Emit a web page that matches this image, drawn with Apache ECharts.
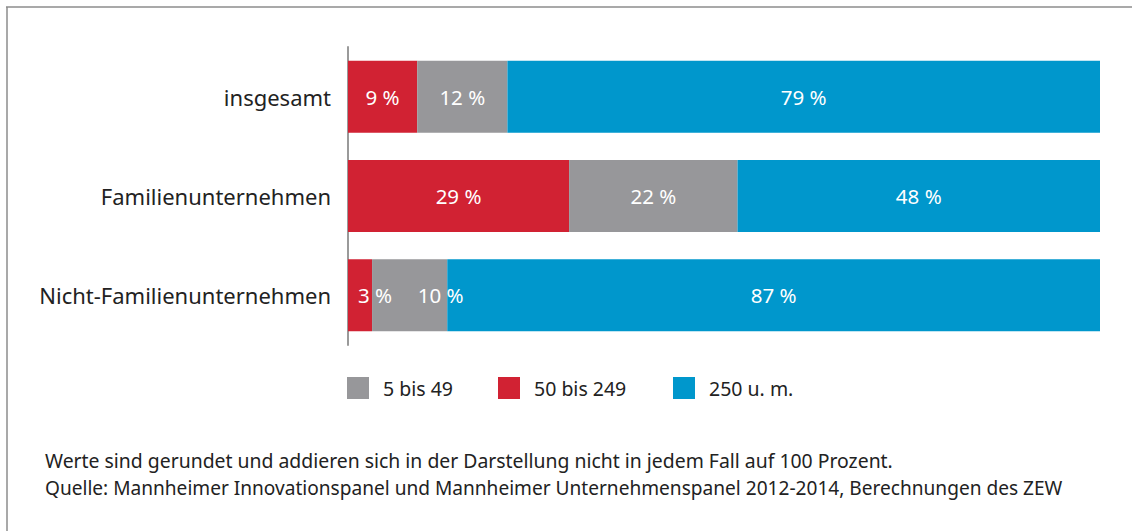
<!DOCTYPE html>
<html>
<head>
<meta charset="utf-8">
<script src="https://cdn.jsdelivr.net/npm/echarts@6/dist/echarts.min.js"></script>
<style>
    html, body { margin: 0; padding: 0; background: #fff; }
    #chart { width: 1132px; height: 531px; }
</style>
</head>
<body>
<div id="chart"></div>
<script>
const categories = ['insgesamt', 'Familienunternehmen', 'Nicht-Familienunternehmen']
const mittel = [9.2, 29.4, 3.2]     // 50 bis 249
const klein = [12.0, 22.4, 10.0]    // 5 bis 49
const gross = [78.8, 48.2, 86.8]    // 250 u. m.
const legendNames = ['5 bis 49', '50 bis 249', '250 u. m.']
const notes = [
    'Werte sind gerundet und addieren sich in der Darstellung nicht in jedem Fall auf 100 Prozent.',
    'Quelle: Mannheimer Innovationspanel und Mannheimer Unternehmenspanel 2012-2014, Berechnungen des ZEW',
]

const FONT = '"Noto Sans", "Open Sans", sans-serif'
const colors = { klein: '#97979a', mittel: '#d12233', gross: '#0097cc' }

// in der letzten Zeile sind die Beschriftungen nach rechts verschoben
const labelShift = { mittel: [0, 0, 15], klein: [0, 0, 31], gross: [0, 0, 0] }

const toData = (values, key) => values.map((v, i) => ({
    value: v,
    label: { offset: [labelShift[key][i], 0] },
}))

const barLabel = {
    show: true,
    position: 'inside',
    color: '#fff',
    fontFamily: FONT,
    fontSize: 20.5,
    formatter: p => Math.round(p.value) + ' %',
}

const legendBase = {
    top: 377,
    padding: 0,
    itemWidth: 22,
    itemHeight: 22,
    icon: 'rect',
    textStyle: { fontFamily: FONT, fontSize: 19.5, color: '#222', padding: [0, 0, 0, 9] },
}

const chart = echarts.init(document.getElementById('chart'), null, { renderer: 'svg' })
chart.setOption({
    animation: false,
    backgroundColor: '#fff',
    grid: { left: 348, right: 32, top: 47, bottom: 186 },
    xAxis: { type: 'value', min: 0, max: 100, show: false },
    yAxis: {
        type: 'category',
        data: categories,
        inverse: true,
        axisLine: { show: true, lineStyle: { color: '#9a9a9a', width: 2 } },
        axisTick: { show: false },
        axisLabel: { fontFamily: FONT, fontSize: 22, color: '#222', margin: 17 },
    },
    legend: [
        Object.assign({ left: 347, data: [legendNames[0]] }, legendBase),
        Object.assign({ left: 498, data: [legendNames[1]] }, legendBase),
        Object.assign({ left: 673, data: [legendNames[2]] }, legendBase),
    ],
    series: [
        {
            name: legendNames[1], type: 'bar', stack: 'a', barCategoryGap: '27.5%',
            itemStyle: { color: colors.mittel }, label: barLabel, data: toData(mittel, 'mittel'),
        },
        {
            name: legendNames[0], type: 'bar', stack: 'a',
            itemStyle: { color: colors.klein }, label: barLabel, data: toData(klein, 'klein'),
        },
        {
            name: legendNames[2], type: 'bar', stack: 'a',
            itemStyle: { color: colors.gross }, label: barLabel, data: toData(gross, 'gross'),
        },
    ],
    graphic: [
        { type: 'line', shape: { x1: 6, y1: 7, x2: 1132, y2: 7 }, style: { stroke: '#8c8c8c', lineWidth: 1.5 } },
        { type: 'line', shape: { x1: 7, y1: 7, x2: 7, y2: 531 }, style: { stroke: '#8c8c8c', lineWidth: 1.5 } },
        {
            type: 'text', left: 45, top: 451,
            style: { text: notes[0], font: '19.4px ' + FONT, fill: '#222' },
        },
        {
            type: 'text', left: 45, top: 478,
            style: { text: notes[1], font: '19.1px ' + FONT, fill: '#222' },
        },
    ],
})
</script>
</body>
</html>
